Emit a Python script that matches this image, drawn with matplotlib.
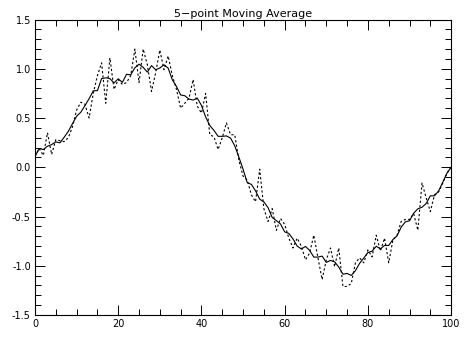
import numpy as np
import pandas as pd
import matplotlib.pyplot as plt
from matplotlib.ticker import MultipleLocator, FormatStrFormatter

# noisy samples (x = 0..100)
x_vals = np.arange(101)
y_noisy = [0.11, 0.19, 0.12, 0.35, 0.13, 0.28, 0.27, 0.26, 0.30, 0.41,
           0.58, 0.66, 0.64, 0.50, 0.75, 0.93, 1.06, 0.65, 1.11, 0.79,
           0.89, 0.84, 0.86, 0.93, 1.20, 0.86, 1.20, 1.04, 0.77, 0.96,
           1.19, 0.99, 1.13, 0.93, 0.79, 0.60, 0.65, 0.70, 0.89, 0.62,
           0.55, 0.75, 0.33, 0.31, 0.18, 0.30, 0.45, 0.33, 0.33, 0.07,
           -0.09, -0.13, -0.28, -0.35, -0.02, -0.42, -0.55, -0.42, -0.64, -0.52,
           -0.58, -0.72, -0.82, -0.72, -0.80, -0.94, -0.87, -0.69, -0.92, -1.14,
           -0.94, -0.82, -1.01, -0.82, -1.21, -1.21, -1.18, -0.97, -0.92, -0.97,
           -0.84, -0.91, -0.69, -0.85, -0.72, -0.97, -0.74, -0.69, -0.55, -0.53,
           -0.53, -0.47, -0.64, -0.16, -0.31, -0.45, -0.28, -0.25, -0.16, -0.06,
           0.0]

# 5-point smoothing, ends left as they are
s = pd.Series(y_noisy)
y_smooth = s.rolling(5, center=True).mean().fillna(s)

fig = plt.figure(figsize=(4.66, 3.44), dpi=100, facecolor='white')
ax = fig.add_axes([0.0751, 0.0843, 0.893, 0.859])

ax.plot(x_vals, y_noisy, color='black', linewidth=0.8, linestyle=(0, (2, 2)))
ax.plot(x_vals, y_smooth, color='black', linewidth=0.8)

ax.set_xlim(0, 100)
ax.set_ylim(-1.5, 1.5)
ax.xaxis.set_major_locator(MultipleLocator(20))
ax.xaxis.set_minor_locator(MultipleLocator(5))
ax.yaxis.set_major_locator(MultipleLocator(0.5))
ax.yaxis.set_minor_locator(MultipleLocator(0.1))
ax.yaxis.set_major_formatter(FormatStrFormatter('%.1f'))
ax.tick_params(which='both', direction='in', top=True, right=True,
               labelsize=7, width=0.7, pad=3)
ax.tick_params(which='major', length=7)
ax.tick_params(which='minor', length=4)
for sp in ax.spines.values():
    sp.set_linewidth(0.8)

ax.set_title('5\u2212point Moving Average', fontsize=8, pad=2)

fig.savefig('out.png', dpi=100)
